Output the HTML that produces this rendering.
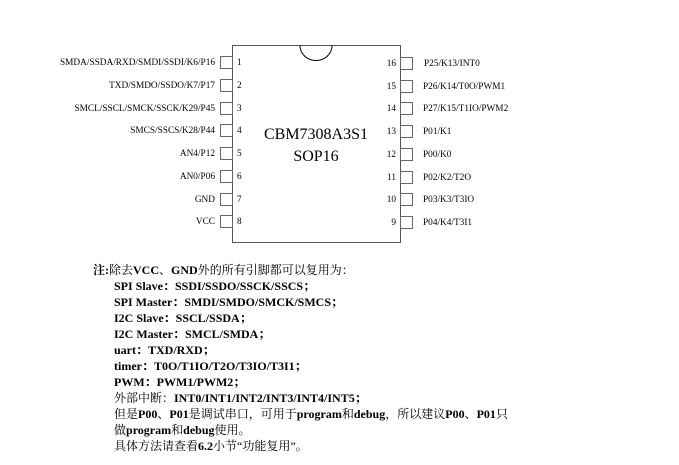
<!DOCTYPE html>
<html><head><meta charset="utf-8"><style>
body{margin:0;background:#fff;width:679px;height:465px;overflow:hidden;position:relative;font-family:"Liberation Serif","Noto Serif CJK SC",serif;}
.t{position:absolute;font-size:12px;line-height:16px;white-space:nowrap;color:#000;}
.t b{font-weight:bold}
</style></head><body>
<svg width="679" height="250" style="position:absolute;left:0;top:0" font-family="Liberation Serif, serif">
<rect x="232.5" y="45.5" width="168" height="197" fill="none" stroke="#555" stroke-width="1"/>
<path d="M300 45.5 A16 15 0 0 0 332 45.5" fill="none" stroke="#000" stroke-width="1"/>
<text x="316" y="139" font-size="16" text-anchor="middle">CBM7308A3S1</text>
<text x="316" y="161" font-size="16" text-anchor="middle">SOP16</text>
<g fill="none" stroke="#666" stroke-width="1">
<rect x="220.5" y="56.5" width="12" height="12"/><rect x="220.5" y="79.5" width="12" height="12"/>
<rect x="220.5" y="102.5" width="12" height="12"/><rect x="220.5" y="124.5" width="12" height="12"/>
<rect x="220.5" y="147.5" width="12" height="12"/><rect x="220.5" y="170.5" width="12" height="12"/>
<rect x="220.5" y="193.5" width="12" height="12"/><rect x="220.5" y="215.5" width="12" height="12"/>
<rect x="400.5" y="57.5" width="12" height="12"/><rect x="400.5" y="80.5" width="12" height="12"/>
<rect x="400.5" y="102.5" width="12" height="12"/><rect x="400.5" y="125.5" width="12" height="12"/>
<rect x="400.5" y="148.5" width="12" height="12"/><rect x="400.5" y="171.5" width="12" height="12"/>
<rect x="400.5" y="193.5" width="12" height="12"/><rect x="400.5" y="216.5" width="12" height="12"/>
</g>
<g font-size="9.3" text-anchor="end">
<text x="215" y="65">SMDA/SSDA/RXD/SMDI/SSDI/K6/P16</text>
<text x="215" y="88">TXD/SMDO/SSDO/K7/P17</text>
<text x="215" y="111">SMCL/SSCL/SMCK/SSCK/K29/P45</text>
<text x="215" y="133">SMCS/SSCS/K28/P44</text>
<text x="215" y="156">AN4/P12</text>
<text x="215" y="179">AN0/P06</text>
<text x="215" y="202">GND</text>
<text x="215" y="224">VCC</text>
<text x="396" y="66">16</text><text x="396" y="89">15</text><text x="396" y="111">14</text>
<text x="396" y="134">13</text><text x="396" y="157">12</text><text x="396" y="180">11</text>
<text x="396" y="202">10</text><text x="396" y="225">9</text>
</g>
<g font-size="9.3">
<text x="237" y="65">1</text><text x="237" y="88">2</text><text x="237" y="111">3</text><text x="237" y="133">4</text>
<text x="237" y="156">5</text><text x="237" y="179">6</text><text x="237" y="202">7</text><text x="237" y="224">8</text>
<text x="424" y="66">P25/K13/INT0</text>
<text x="423" y="89">P26/K14/T0O/PWM1</text>
<text x="423" y="111">P27/K15/T1IO/PWM2</text>
<text x="423" y="134">P01/K1</text>
<text x="423" y="157">P00/K0</text>
<text x="423" y="180">P02/K2/T2O</text>
<text x="423" y="202">P03/K3/T3IO</text>
<text x="423" y="225">P04/K4/T3I1</text>
</g>
</svg>
<div class="t" style="left:93px;top:262px"><b>注:</b>除去<b>VCC</b>、<b>GND</b>外的所有引脚都可以复用为：</div>
<div class="t" style="left:114px;top:278px"><b>SPI Slave：SSDI/SSDO/SSCK/SSCS；</b></div>
<div class="t" style="left:114px;top:294px"><b>SPI Master：SMDI/SMDO/SMCK/SMCS；</b></div>
<div class="t" style="left:114px;top:310px"><b>I2C Slave：SSCL/SSDA；</b></div>
<div class="t" style="left:114px;top:326px"><b>I2C Master：SMCL/SMDA；</b></div>
<div class="t" style="left:114px;top:342px"><b>uart：TXD/RXD；</b></div>
<div class="t" style="left:114px;top:358px"><b>timer：T0O/T1IO/T2O/T3IO/T3I1；</b></div>
<div class="t" style="left:114px;top:374px"><b>PWM：PWM1/PWM2；</b></div>
<div class="t" style="left:114px;top:390px">外部中断：<b>INT0/INT1/INT2/INT3/INT4/INT5；</b></div>
<div class="t" style="left:114px;top:406px">但是<b>P00</b>、<b>P01</b>是调试串口，可用于<b>program</b>和<b>debug</b>，所以建议<b>P00</b>、<b>P01</b>只</div>
<div class="t" style="left:114px;top:422px">做<b>program</b>和<b>debug</b>使用。</div>
<div class="t" style="left:114px;top:438px">具体方法请查看<b>6.2</b>小节“功能复用”。</div>
</body></html>
